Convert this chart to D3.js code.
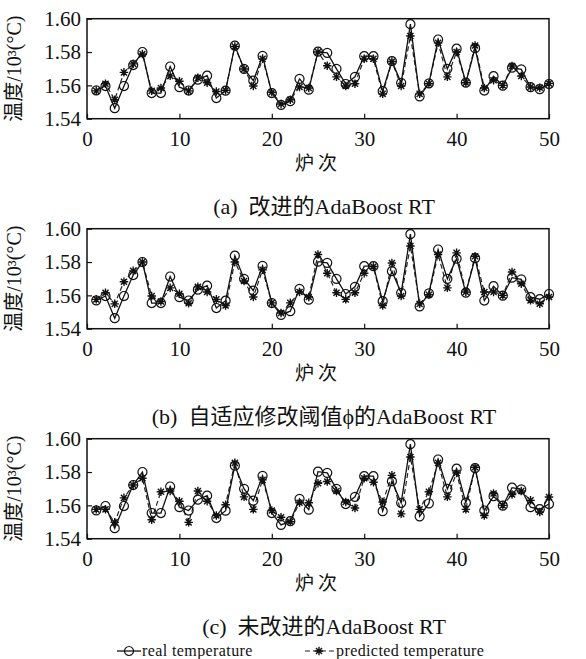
<!DOCTYPE html>
<html>
<head>
<meta charset="utf-8">
<title>AdaBoost RT temperature</title>
<script src="https://d3js.org/d3.v7.min.js"></script>
<style>
  body { margin: 0; background: #fff; }
  text { font-family: "Liberation Serif", "Noto Sans CJK SC", serif; fill: #111; }
</style>
</head>
<body>
<svg width="586" height="659"></svg>
<script>
// 炉次 (heat number)
var heats = [1,2,3,4,5,6,7,8,9,10,11,12,13,14,15,16,17,18,19,20,21,22,23,24,25,
             26,27,28,29,30,31,32,33,34,35,36,37,38,39,40,41,42,43,44,45,46,47,48,49,50];

// real temperature, 10^3 °C
var realTemp = [1.5570,1.5596,1.5463,1.5596,1.5722,1.5800,1.5554,1.5554,1.5713,1.5589,
                1.5569,1.5634,1.5658,1.5524,1.5568,1.5838,1.5699,1.5628,1.5777,1.5554,
                1.5483,1.5505,1.5639,1.5574,1.5802,1.5795,1.5699,1.5608,1.5651,1.5775,
                1.5775,1.5565,1.5745,1.5615,1.5967,1.5534,1.5612,1.5875,1.5699,1.5820,
                1.5616,1.5823,1.5569,1.5655,1.5598,1.5706,1.5696,1.5589,1.5577,1.5608];

// (a) improved AdaBoost RT
var predImproved = [1.5567,1.5610,1.5514,1.5678,1.5729,1.5788,1.5567,1.5584,1.5657,1.5625,
                    1.5567,1.5645,1.5616,1.5563,1.5571,1.5833,1.5698,1.5596,1.5759,1.5559,
                    1.5488,1.5514,1.5590,1.5584,1.5800,1.5718,1.5651,1.5596,1.5610,1.5759,
                    1.5759,1.5549,1.5743,1.5596,1.5896,1.5549,1.5610,1.5855,1.5651,1.5800,
                    1.5616,1.5839,1.5584,1.5631,1.5600,1.5716,1.5656,1.5590,1.5586,1.5612];

// (b) adaptive threshold phi
var predAdaptive = [1.5576,1.5616,1.5549,1.5682,1.5747,1.5800,1.5596,1.5563,1.5645,1.5610,
                    1.5553,1.5651,1.5620,1.5576,1.5539,1.5800,1.5686,1.5590,1.5753,1.5555,
                    1.5494,1.5555,1.5620,1.5590,1.5845,1.5733,1.5616,1.5576,1.5616,1.5733,
                    1.5773,1.5539,1.5794,1.5596,1.5896,1.5549,1.5604,1.5845,1.5645,1.5855,
                    1.5620,1.5835,1.5620,1.5620,1.5600,1.5740,1.5670,1.5570,1.5550,1.5590];

// (c) original AdaBoost RT
var predOriginal = [1.5576,1.5576,1.5498,1.5645,1.5722,1.5763,1.5514,1.5682,1.5686,1.5625,
                    1.5498,1.5686,1.5625,1.5539,1.5604,1.5855,1.5651,1.5576,1.5753,1.5569,
                    1.5529,1.5502,1.5616,1.5616,1.5733,1.5743,1.5686,1.5620,1.5584,1.5763,
                    1.5739,1.5620,1.5780,1.5549,1.5890,1.5576,1.5682,1.5855,1.5651,1.5794,
                    1.5576,1.5829,1.5539,1.5671,1.5600,1.5665,1.5686,1.5630,1.5560,1.5650];

var xTicks = [0, 10, 20, 30, 40, 50];
var yTicks = [1.54, 1.56, 1.58, 1.60];
var titles = ["(a)\u2002改进的AdaBoost RT", "(b)\u2002自适应修改阈值\u03d5的AdaBoost RT", "(c)\u2002未改进的AdaBoost RT"];
var legendLabels = ["real temperature", "predicted temperature"];

var panels = [predImproved, predAdaptive, predOriginal];

var margin = { left: 87, right: 37 },
    width = 586 - margin.left - margin.right,
    height = 100,
    panelTop = 18.7,
    panelStep = 210;

var svg = d3.select("svg");

var xScale = d3.scaleLinear().domain([0, 50]).range([0, width]);
var yScale = d3.scaleLinear().domain([1.54, 1.60]).range([height, 0]);

// MATLAB style '*' marker: plus + cross
var starSymbol = {
  draw: function(context, size) {
    var r = Math.sqrt(size) / 2, d = r * 0.72;
    context.moveTo(-r, 0); context.lineTo(r, 0);
    context.moveTo(0, -r); context.lineTo(0, r);
    context.moveTo(-d, -d); context.lineTo(d, d);
    context.moveTo(-d, d); context.lineTo(d, -d);
  }
};
var circleMark = d3.symbol().type(d3.symbolCircle).size(64);
var starMark = d3.symbol().type(starSymbol).size(72);

var line = d3.line()
    .x(function(d) { return xScale(d.x); })
    .y(function(d) { return yScale(d.y); });

panels.forEach(function(pred, p) {
  var g = svg.append("g")
      .attr("transform", "translate(" + margin.left + "," + (panelTop + p * panelStep) + ")");

  var realPts = heats.map(function(h, i) { return { x: h, y: realTemp[i] }; });
  var predPts = heats.map(function(h, i) { return { x: h, y: pred[i] }; });

  // axes, ticks pointing inside
  g.append("g")
      .attr("transform", "translate(0," + height + ")")
      .call(d3.axisBottom(xScale).tickValues(xTicks).tickSize(-5).tickPadding(12).tickSizeOuter(0))
      .call(function(a) {
        a.select(".domain").remove();
        a.selectAll("line").attr("stroke", "#111").attr("stroke-width", 1.2);
        a.selectAll("text").style("font-size", "21px").attr("fill", "#111");
      });

  g.append("g")
      .call(d3.axisLeft(yScale).tickValues(yTicks).tickSize(-5).tickPadding(6).tickSizeOuter(0)
            .tickFormat(d3.format(".2f")))
      .call(function(a) {
        a.select(".domain").remove();
        a.selectAll("line").attr("stroke", "#111").attr("stroke-width", 1.2);
        a.selectAll("text").style("font-size", "21px").attr("fill", "#111");
      });

  g.append("rect")
      .attr("width", width)
      .attr("height", height)
      .attr("fill", "none")
      .attr("stroke", "#111")
      .attr("stroke-width", 1.5);

  g.append("path")
      .datum(predPts)
      .attr("d", line)
      .attr("fill", "none")
      .attr("stroke", "#222")
      .attr("stroke-width", 1.2)
      .attr("stroke-dasharray", "5,3");

  g.append("path")
      .datum(realPts)
      .attr("d", line)
      .attr("fill", "none")
      .attr("stroke", "#111")
      .attr("stroke-width", 1.3);

  g.selectAll(".real-pt")
      .data(realPts)
      .enter()
      .append("path")
      .attr("class", "real-pt")
      .attr("transform", function(d) { return "translate(" + xScale(d.x) + "," + yScale(d.y) + ")"; })
      .attr("d", circleMark)
      .attr("fill", "none")
      .attr("stroke", "#111")
      .attr("stroke-width", 1.2);

  g.selectAll(".pred-pt")
      .data(predPts)
      .enter()
      .append("path")
      .attr("class", "pred-pt")
      .attr("transform", function(d) { return "translate(" + xScale(d.x) + "," + yScale(d.y) + ")"; })
      .attr("d", starMark)
      .attr("fill", "none")
      .attr("stroke", "#111")
      .attr("stroke-width", 1.4);

  // y label
  g.append("text")
      .attr("transform", "translate(-66," + (height / 2) + ") rotate(-90)")
      .attr("text-anchor", "middle")
      .style("font-size", "20px")
      .attr("fill", "#333")
      .text("温度/10³(°C)");

  // x label
  g.append("text")
      .attr("x", width / 2)
      .attr("y", height + 51)
      .attr("text-anchor", "middle")
      .style("font-size", "19px")
      .style("letter-spacing", "4px")
      .attr("fill", "#333")
      .text("炉次");

  // sub title
  g.append("text")
      .attr("x", width / 2 + 6)
      .attr("y", height + 95)
      .attr("text-anchor", "middle")
      .style("font-size", "22px")
      .text(titles[p]);
});

// legend
var legend = svg.append("g").attr("transform", "translate(0,651)");

legend.append("line")
    .attr("x1", 117).attr("x2", 141).attr("y1", 0).attr("y2", 0)
    .attr("stroke", "#111").attr("stroke-width", 1.3);
legend.append("path")
    .attr("transform", "translate(129,0)")
    .attr("d", circleMark)
    .attr("fill", "none").attr("stroke", "#111").attr("stroke-width", 1.2);
legend.append("text")
    .attr("x", 142).attr("y", 5)
    .style("font-size", "16px")
    .style("letter-spacing", "0.4px")
    .text(legendLabels[0]);

legend.append("line")
    .attr("x1", 305).attr("x2", 334).attr("y1", 0).attr("y2", 0)
    .attr("stroke", "#222").attr("stroke-width", 1.2)
    .attr("stroke-dasharray", "5,3");
legend.append("path")
    .attr("transform", "translate(319,0)")
    .attr("d", starMark)
    .attr("fill", "none").attr("stroke", "#111").attr("stroke-width", 1.4);
legend.append("text")
    .attr("x", 336).attr("y", 5)
    .style("font-size", "16px")
    .style("letter-spacing", "0.4px")
    .text(legendLabels[1]);
</script>
</body>
</html>
